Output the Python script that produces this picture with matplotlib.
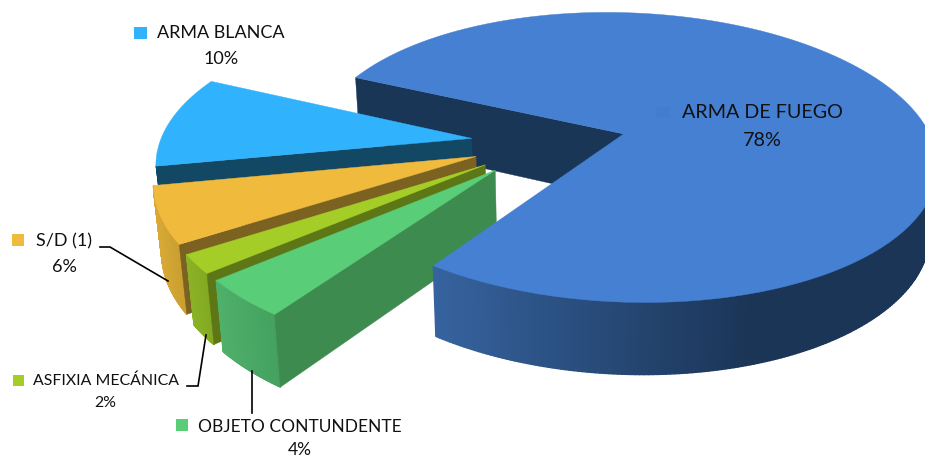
import numpy as np
import matplotlib
matplotlib.use('Agg')
import matplotlib.pyplot as plt
from matplotlib.collections import PolyCollection
from matplotlib.colors import to_rgb
from matplotlib.patches import Polygon, Rectangle

# slices, clockwise from the back edge of the big one
labels = ['ARMA DE FUEGO', 'OBJETO CONTUNDENTE', 'ASFIXIA MECÁNICA', 'S/D (1)', 'ARMA BLANCA']
values = [78, 4, 2, 6, 10]
top_colors = ['#4580d2', '#5acd78', '#a4ce27', '#f0ba3c', '#30b2fc']
radial_colors = ['#1a3657', '#3d8b4f', '#5e7716', '#7c6220', '#134865']
rim_left = ['#36639f', '#4fb06a', '#8ab226', '#d8a936', '#134865']
rim_right = ['#1b3557', '#44a15f', '#82a822', '#c99f30', '#134865']

# plane of the pie -> pixels (fitted against the picture)
H = [318.323183, 56.294946, 549.186801, -9.797861, -120.453433, 142.896, 0.017142, 0.163006]
START = -1.046557
EXPLODE = 0.251843


def proj(X, Y):
    a, b, c, d, e, f, g, h = H
    w = g * X + h * Y + 1
    return (a * X + b * Y + c) / w, (d * X + e * Y + f) / w


def lower(x, y):
    # bottom face, the sides lean in slightly
    return x + (560 - x) * 0.02, y + 60 + 0.04 * y


fracs = np.array(values) / sum(values)
edges = np.concatenate([[0], np.cumsum(fracs)])


def apex(i):
    m = 2 * np.pi * (edges[i] + edges[i + 1]) / 2 + START
    return EXPLODE * np.sin(m), EXPLODE * np.cos(m)


def rim(i, n=120):
    ax0, ay0 = apex(i)
    t = np.linspace(edges[i], edges[i + 1], n)
    th = 2 * np.pi * t + START
    return proj(ax0 + np.sin(th), ay0 + np.cos(th))


def mix(c1, c2, f):
    c1, c2 = np.array(to_rgb(c1)), np.array(to_rgb(c2))
    return tuple(c1 + (c2 - c1) * f)


def side_wall(ax, xs, ys, c1, c2, x_from, x_to, z):
    quads, cols = [], []
    for k in range(len(xs) - 1):
        x0, y0 = xs[k], ys[k]
        x1, y1 = xs[k + 1], ys[k + 1]
        # going clockwise, the rim faces the viewer only while it runs leftwards
        if x1 >= x0:
            continue
        quads.append([(x0, y0), (x1, y1), lower(x1, y1), lower(x0, y0)])
        f = np.clip(((x0 + x1) / 2 - x_from) / (x_to - x_from), 0, 1)
        cols.append(mix(c1, c2, f))
    ax.add_collection(PolyCollection(quads, facecolors=cols, edgecolors=cols, linewidths=1.0, zorder=z))


def radial_wall(ax, i, x, y, z):
    px, py = proj(*apex(i))
    pts = [(px, py), (x, y), lower(x, y), lower(px, py)]
    ax.add_patch(Polygon(pts, closed=True, fc=radial_colors[i], ec=radial_colors[i], lw=0.3, zorder=z))


def top_face(ax, i, z):
    xs, ys = rim(i)
    pts = [proj(*apex(i))] + list(zip(xs, ys))
    ax.add_patch(Polygon(pts, closed=True, fc=top_colors[i], ec=top_colors[i], lw=0.3, zorder=z))


fig = plt.figure(figsize=(9.25, 4.58), dpi=100)
ax = fig.add_axes([0, 0, 1, 1])
ax.set_xlim(0, 925)
ax.set_ylim(458, 0)
ax.axis('off')

# back wall of the big slice goes under everything
xs, ys = rim(0, 400)
radial_wall(ax, 0, xs[0], ys[0], 1)

# small slices back to front
z = 2
for i in [4, 3, 2, 1]:
    xs, ys = rim(i)
    side_wall(ax, xs, ys, rim_left[i], rim_right[i], xs.min(), xs.max(), z)
    radial_wall(ax, i, xs[0], ys[0], z + 1)
    top_face(ax, i, z + 2)
    z += 3

# big slice last, it covers the green wall
xs, ys = rim(0, 400)
side_wall(ax, xs, ys, rim_left[0], rim_right[0], 432, 750, z)
top_face(ax, 0, z + 1)
ax.add_patch(Rectangle((656, 107), 14, 11, fc='#447dce', ec='none', zorder=z + 2))

# leader lines
ax.plot([100, 110, 168], [247, 247, 281], color='black', lw=1.2, zorder=30, solid_joinstyle='miter')
ax.plot([187, 198, 206], [386, 386, 335], color='black', lw=1.2, zorder=30, solid_joinstyle='miter')
ax.plot([252, 252], [413, 371], color='black', lw=1.2, zorder=30)

FONT = 'Lato'
# key box, label x, label y, percent x, percent y, font size
label_pos = {
    'ARMA DE FUEGO': (None, 762, 113, 762, 141, 14.2),
    'OBJETO CONTUNDENTE': ((176, 419, 12, 12), 300, 427, 300, 450, 12.5),
    'ASFIXIA MECÁNICA': ((13, 375, 11, 11), 106, 381, 105, 403, 11.4),
    'S/D (1)': ((12, 234, 12, 12), 64, 241, 64, 267, 13),
    'ARMA BLANCA': ((134, 27, 13, 12), 221, 33, 221, 59, 13),
}
for i, name in enumerate(labels):
    box, lx, ly, px, py, fs = label_pos[name]
    if box is not None:
        ax.add_patch(Rectangle(box[:2], box[2], box[3], fc=top_colors[i], ec='none', zorder=31))
    ax.text(lx, ly, name, ha='center', va='center', fontsize=fs, family=FONT, color='#111111', zorder=32)
    ax.text(px, py, f'{values[i]}%', ha='center', va='center', fontsize=fs, family=FONT, color='#111111', zorder=32)

fig.savefig('out.png', dpi=100)
